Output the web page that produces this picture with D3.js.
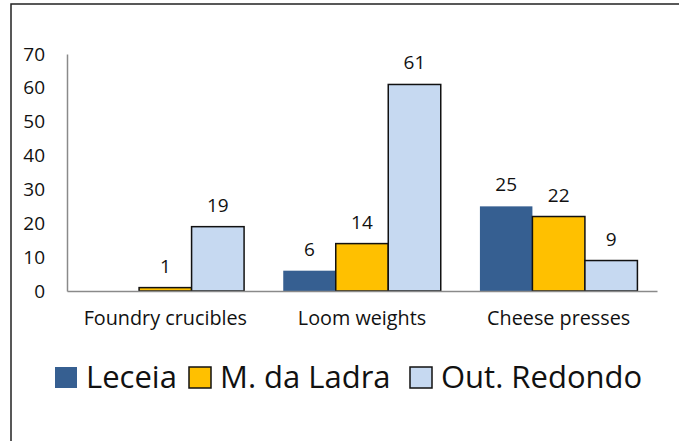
<!DOCTYPE html>
<html>
<head>
<meta charset="utf-8">
<script src="https://cdn.jsdelivr.net/npm/d3@7"></script>
<style>
  body { margin: 0; background: #fff; }
  svg text { font-family: "Open Sans", Lato, sans-serif; fill: #111; }
</style>
</head>
<body>
<div id="chart"></div>
<script>
// data
const categories = ['Foundry crucibles', 'Loom weights', 'Cheese presses'];
const seriesNames = ['Leceia', 'M. da Ladra', 'Out. Redondo'];
const leceia = [0, 6, 25];
const ladra = [1, 14, 22];
const redondo = [19, 61, 9];
const yTicks = [0, 10, 20, 30, 40, 50, 60, 70];

const seriesColors = ['#365F91', '#FFC000', '#C6D9F1'];
const seriesStroke = ['none', '#111', '#111'];

const width = 679, height = 441;
const plot = { left: 67, right: 657, top: 54, bottom: 291 };

const svg = d3.select('#chart').append('svg')
    .attr('width', width)
    .attr('height', height);

// outer frame (runs off the right and bottom edges)
svg.append('rect')
    .attr('x', 11).attr('y', 4)
    .attr('width', 700).attr('height', 460)
    .attr('fill', 'none')
    .attr('stroke', '#222')
    .attr('stroke-width', 1.5);

const x0 = d3.scaleBand()
    .domain(categories)
    .range([plot.left, plot.right]);

const x1 = d3.scaleBand()
    .domain(seriesNames)
    .range([0, x0.bandwidth()])
    .paddingOuter(0.373);

const y = d3.scaleLinear()
    .domain([0, 70])
    .range([plot.bottom, plot.top]);

const rows = categories.map((c, i) => ({
    category: c,
    values: [leceia[i], ladra[i], redondo[i]]
}));

// y axis labels
const yAxis = d3.axisLeft(y).tickValues(yTicks).tickSize(0).tickPadding(22);
const yg = svg.append('g')
    .attr('transform', `translate(${plot.left},0)`)
    .call(yAxis);
yg.select('.domain').attr('stroke', '#8a8a8a').attr('stroke-width', 1.5);
yg.selectAll('text').attr('font-size', 19).attr('fill', '#111');

// bars
const groups = svg.selectAll('g.cat')
    .data(rows)
    .enter().append('g')
    .attr('class', 'cat')
    .attr('transform', d => `translate(${x0(d.category)},0)`);

groups.selectAll('rect')
    .data(d => d.values.map((v, j) => ({ name: seriesNames[j], value: v, j })))
    .enter().append('rect')
    .filter(d => d.value > 0)
    .attr('x', d => x1(d.name))
    .attr('y', d => y(d.value))
    .attr('width', x1.bandwidth())
    .attr('height', d => y(0) - y(d.value))
    .attr('fill', d => seriesColors[d.j])
    .attr('stroke', d => seriesStroke[d.j])
    .attr('stroke-width', 1.5);

groups.selectAll('text.val')
    .data(d => d.values.map((v, j) => ({ name: seriesNames[j], value: v, j })).filter(d => d.value > 0))
    .enter().append('text')
    .attr('class', 'val')
    .attr('x', d => x1(d.name) + x1.bandwidth() / 2)
    .attr('y', d => y(d.value) - 15)
    .attr('text-anchor', 'middle')
    .attr('font-size', 19)
    .text(d => d.value);

// x axis
const xAxis = d3.axisBottom(x0).tickSize(0).tickPadding(20);
const xg = svg.append('g')
    .attr('transform', `translate(0,${plot.bottom})`)
    .call(xAxis);
xg.select('.domain').attr('stroke', '#8a8a8a').attr('stroke-width', 1.5);
xg.selectAll('text').attr('font-size', 19.8).attr('fill', '#111');

// legend
const legendX = [55, 189, 410];
const legend = svg.append('g');
seriesNames.forEach((name, j) => {
    legend.append('rect')
        .attr('x', legendX[j]).attr('y', 367)
        .attr('width', 22).attr('height', 21)
        .attr('fill', seriesColors[j])
        .attr('stroke', seriesStroke[j])
        .attr('stroke-width', 1.5);
    legend.append('text')
        .attr('x', legendX[j] + 31)
        .attr('y', 388)
        .attr('font-size', 31)
        .text(name);
});
</script>
</body>
</html>
